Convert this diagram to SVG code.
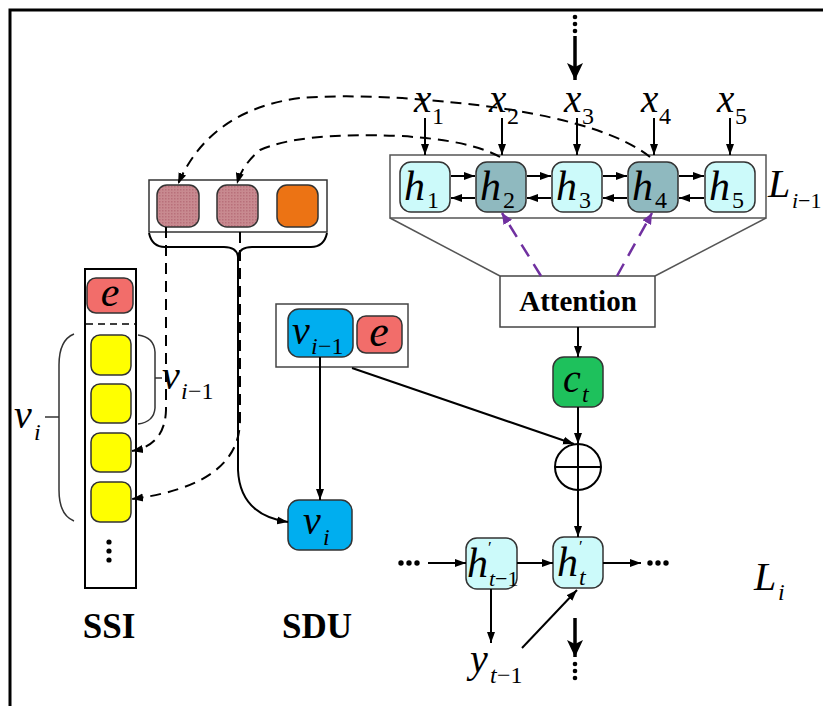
<svg xmlns="http://www.w3.org/2000/svg" width="823" height="706" viewBox="0 0 823 706">
<defs>
<marker id="ahs" markerUnits="userSpaceOnUse" markerWidth="12" markerHeight="10" refX="11" refY="5" orient="auto"><path d="M0,1 L11,5 L0,9 Z" fill="#000"/></marker>
<marker id="ahb" markerUnits="userSpaceOnUse" markerWidth="18" markerHeight="16" refX="17" refY="8" orient="auto"><path d="M0,0 L17,8 L0,16 L4,8 Z" fill="#000"/></marker>
<marker id="ahp" markerUnits="userSpaceOnUse" markerWidth="12" markerHeight="10" refX="11" refY="5" orient="auto"><path d="M0,0 L11,5 L0,10 Z" fill="#7030a0"/></marker>
<pattern id="hatch" width="3" height="3" patternUnits="userSpaceOnUse"><rect width="3" height="3" fill="#c88a90"/><rect width="1.5" height="1.5" fill="#b8707a"/></pattern>
</defs>
<style>
.m{font-family:"Liberation Serif","DejaVu Serif",serif;font-style:italic;fill:#000}
.s{font-family:"Liberation Serif","DejaVu Serif",serif;font-style:normal;fill:#000}
.b{font-family:"Liberation Serif","DejaVu Serif",serif;font-weight:bold;fill:#000}
.ln{stroke:#000;stroke-width:2;fill:none}
.thin{stroke:#333;stroke-width:1.5;fill:none}
.dash{stroke:#000;stroke-width:2;fill:none;stroke-dasharray:11,7}
.hl{fill:#ccfafa;stroke:#333;stroke-width:1.5}
.hd{fill:#8fb9bf;stroke:#333;stroke-width:1.5}
.yel{fill:#ffff00;stroke:#333;stroke-width:1.5}
.red{fill:#f26d6a;stroke:#333;stroke-width:1.5}
.blue{fill:#00aeef;stroke:#333;stroke-width:1.5}
</style>
<rect width="823" height="706" fill="#fff"/>
<path d="M10,706 V10 H823" stroke="#000" stroke-width="3" fill="none"/>

<g id="top-input">
<circle cx="575" cy="17" r="2.3"/><circle cx="575" cy="24" r="2.3"/><circle cx="575" cy="31" r="2.3"/>
<line x1="575" y1="36" x2="575" y2="80" stroke="#000" stroke-width="3.5" marker-end="url(#ahb)"/>
</g>

<g id="x-labels">
<text class="m" x="414" y="112" font-size="39">x</text><text class="s" x="432" y="124" font-size="24">1</text>
<text class="m" x="489" y="112" font-size="39">x</text><text class="s" x="507" y="124" font-size="24">2</text>
<text class="m" x="564" y="112" font-size="39">x</text><text class="s" x="582" y="124" font-size="24">3</text>
<text class="m" x="641" y="112" font-size="39">x</text><text class="s" x="659" y="124" font-size="24">4</text>
<text class="m" x="717" y="112" font-size="39">x</text><text class="s" x="735" y="124" font-size="24">5</text>
</g>

<g id="encoder-box">
<rect x="390" y="155" width="376" height="63" fill="#fff" stroke="#555" stroke-width="1.5"/>
</g>
<g id="h1"><rect class="hl" x="400" y="162" width="50" height="50" rx="11"/><text class="m" x="404" y="200" font-size="42">h</text><text class="s" x="427" y="208" font-size="24">1</text></g>
<g id="h2"><rect class="hd" x="476" y="162" width="50" height="50" rx="11"/><text class="m" x="480" y="200" font-size="42">h</text><text class="s" x="503" y="208" font-size="24">2</text></g>
<g id="h3"><rect class="hl" x="552" y="162" width="50" height="50" rx="11"/><text class="m" x="556" y="200" font-size="42">h</text><text class="s" x="579" y="208" font-size="24">3</text></g>
<g id="h4"><rect class="hd" x="628" y="162" width="50" height="50" rx="11"/><text class="m" x="632" y="200" font-size="42">h</text><text class="s" x="655" y="208" font-size="24">4</text></g>
<g id="h5"><rect class="hl" x="705" y="162" width="50" height="50" rx="11"/><text class="m" x="709" y="200" font-size="42">h</text><text class="s" x="732" y="208" font-size="24">5</text></g>
<g id="L-prev"><text class="m" x="768" y="197" font-size="40">L</text><text class="m" x="792" y="208" font-size="22">i</text><text class="s" x="798" y="208" font-size="22">−1</text></g>

<g id="attention">
<rect x="500" y="276" width="155" height="51" fill="#fff" stroke="#444" stroke-width="1.5"/>
<text class="b" x="578" y="311" font-size="29" text-anchor="middle">Attention</text>
</g>
<g id="ct"><rect x="553" y="357" width="50" height="50" rx="11" fill="#1ec15c" stroke="#333" stroke-width="1.5"/><text class="m" x="563" y="392" font-size="40">c</text><text class="m" x="582" y="402" font-size="24">t</text></g>
<g id="sum"><circle cx="578" cy="467" r="23" fill="#fff" stroke="#000" stroke-width="2"/><line x1="555" y1="467" x2="601" y2="467" stroke="#000" stroke-width="2"/><line x1="578" y1="444" x2="578" y2="490" stroke="#000" stroke-width="2"/></g>

<g id="h-prev"><rect class="hl" x="466" y="538" width="51" height="51" rx="11"/><text class="m" x="467" y="577" font-size="42">h</text><text class="s" x="488" y="553" font-size="17">′</text><text class="m" x="489" y="586" font-size="22">t</text><text class="s" x="495" y="586" font-size="22">−1</text></g>
<g id="h-cur"><rect class="hl" x="553" y="537" width="50" height="51" rx="11"/><text class="m" x="557" y="576" font-size="42">h</text><text class="s" x="579" y="552" font-size="17">′</text><text class="m" x="579" y="585" font-size="24">t</text></g>
<g id="dots-left"><circle cx="401" cy="563" r="2.7"/><circle cx="409" cy="563" r="2.7"/><circle cx="417" cy="563" r="2.7"/></g>
<g id="dots-right"><circle cx="650" cy="563" r="2.7"/><circle cx="658" cy="563" r="2.7"/><circle cx="666" cy="563" r="2.7"/></g>
<g id="y-prev"><text class="m" x="470" y="672" font-size="40">y</text><text class="m" x="490" y="683" font-size="24">t</text><text class="s" x="497" y="683" font-size="24">−1</text></g>
<g id="L-cur"><text class="m" x="754" y="590" font-size="40">L</text><text class="m" x="778" y="600" font-size="24">i</text></g>
<g id="bottom-output">
<line x1="575" y1="618" x2="575" y2="657" stroke="#000" stroke-width="3.5" marker-end="url(#ahb)"/>
<circle cx="575" cy="664" r="2.3"/><circle cx="575" cy="671" r="2.3"/><circle cx="575" cy="678" r="2.3"/>
</g>

<g id="memory">
<rect x="149" y="180" width="178" height="52" fill="#fff" stroke="#333" stroke-width="1.5"/>
<rect x="157" y="185" width="42" height="42" rx="10" fill="url(#hatch)" stroke="#333" stroke-width="1.5"/>
<rect x="217" y="185" width="41" height="42" rx="10" fill="url(#hatch)" stroke="#333" stroke-width="1.5"/>
<rect x="277" y="185" width="41" height="42" rx="10" fill="#ec7314" stroke="#333" stroke-width="1.5"/>
<path class="ln" d="M149,233 Q152,247 165,247 H224 Q237,247 238,257 Q239,247 252,247 H311 Q324,247 327,233" stroke-width="1.8"/>
</g>

<g id="SSI">
<rect x="85" y="269" width="51" height="319" fill="#fff" stroke="#000" stroke-width="2"/>
<rect class="red" x="87" y="278" width="46" height="35" rx="9"/>
<text class="m" x="110" y="306" font-size="42" text-anchor="middle">e</text>
<line x1="86" y1="324" x2="135" y2="324" stroke="#000" stroke-width="1.5" stroke-dasharray="7,5"/>
<rect class="yel" x="91" y="335" width="40" height="40" rx="9"/>
<rect class="yel" x="91" y="384" width="40" height="39" rx="9"/>
<rect class="yel" x="91" y="433" width="40" height="39" rx="9"/>
<rect class="yel" x="91" y="482" width="40" height="40" rx="9"/>
<circle cx="109" cy="542" r="2.6"/><circle cx="109" cy="551" r="2.6"/><circle cx="109" cy="560" r="2.6"/>
<text class="b" x="109" y="638" font-size="35" text-anchor="middle">SSI</text>
</g>
<g id="brace-vprev">
<path class="thin" d="M138,335 Q154,337 155,352 V408 Q154,422 138,424"/>
<line x1="155" y1="378" x2="162" y2="378" stroke="#333" stroke-width="1.5"/>
<text class="m" x="162" y="389" font-size="40">v</text><text class="m" x="181" y="399" font-size="24">i</text><text class="s" x="188" y="399" font-size="24">−1</text>
</g>
<g id="brace-vi">
<path class="thin" d="M74,334 Q59,340 59,365 V490 Q59,515 74,521"/>
<line x1="45" y1="417" x2="59" y2="417" stroke="#333" stroke-width="1.5"/>
<text class="m" x="14" y="428" font-size="40">v</text><text class="m" x="34" y="440" font-size="24">i</text>
</g>

<g id="SDU">
<rect x="276" y="304" width="132" height="63" fill="#fff" stroke="#444" stroke-width="1.5"/>
<rect class="blue" x="288" y="309" width="65" height="48" rx="11"/>
<text class="m" x="292" y="344" font-size="40">v</text><text class="m" x="311" y="354" font-size="24">i</text><text class="s" x="318" y="354" font-size="24">−1</text>
<rect class="red" x="357" y="316" width="45" height="37" rx="9"/>
<text class="m" x="379" y="346" font-size="44" text-anchor="middle">e</text>
<text class="b" x="317" y="638" font-size="35" text-anchor="middle">SDU</text>
</g>
<g id="vi"><rect class="blue" x="288" y="500" width="64" height="50" rx="11"/><text class="m" x="303" y="534" font-size="40">v</text><text class="m" x="323" y="545" font-size="24">i</text></g>

<g id="connectors">
<line x1="425" y1="118" x2="425" y2="155" class="ln" marker-end="url(#ahs)"/>
<line x1="502" y1="118" x2="502" y2="155" class="ln" marker-end="url(#ahs)"/>
<line x1="577" y1="118" x2="577" y2="155" class="ln" marker-end="url(#ahs)"/>
<line x1="654" y1="118" x2="654" y2="155" class="ln" marker-end="url(#ahs)"/>
<line x1="730" y1="118" x2="730" y2="155" class="ln" marker-end="url(#ahs)"/>
<line x1="451" y1="176" x2="475" y2="176" class="ln" marker-end="url(#ahs)"/>
<line x1="475" y1="198" x2="451" y2="198" class="ln" marker-end="url(#ahs)"/>
<line x1="527" y1="176" x2="551" y2="176" class="ln" marker-end="url(#ahs)"/>
<line x1="551" y1="198" x2="527" y2="198" class="ln" marker-end="url(#ahs)"/>
<line x1="603" y1="176" x2="627" y2="176" class="ln" marker-end="url(#ahs)"/>
<line x1="627" y1="198" x2="603" y2="198" class="ln" marker-end="url(#ahs)"/>
<line x1="679" y1="176" x2="704" y2="176" class="ln" marker-end="url(#ahs)"/>
<line x1="704" y1="198" x2="679" y2="198" class="ln" marker-end="url(#ahs)"/>
<line x1="390" y1="218" x2="500" y2="276" stroke="#555" stroke-width="1.5"/>
<line x1="766" y1="218" x2="655" y2="276" stroke="#555" stroke-width="1.5"/>
<line x1="541" y1="276" x2="502" y2="213" stroke="#7030a0" stroke-width="2.5" stroke-dasharray="14,9" marker-end="url(#ahp)"/>
<line x1="617" y1="276" x2="652" y2="213" stroke="#7030a0" stroke-width="2.5" stroke-dasharray="14,9" marker-end="url(#ahp)"/>
<line x1="578" y1="327" x2="578" y2="357" class="ln" marker-end="url(#ahs)"/>
<line x1="578" y1="407" x2="578" y2="444" class="ln" marker-end="url(#ahs)"/>
<line x1="352" y1="368" x2="574" y2="444" class="ln" marker-end="url(#ahs)"/>
<line x1="578" y1="490" x2="578" y2="537" class="ln" marker-end="url(#ahs)"/>
<line x1="428" y1="563" x2="466" y2="563" class="ln" marker-end="url(#ahs)"/>
<line x1="517" y1="563" x2="553" y2="563" class="ln" marker-end="url(#ahs)"/>
<line x1="603" y1="563" x2="641" y2="563" class="ln" marker-end="url(#ahs)"/>
<line x1="491" y1="589" x2="491" y2="643" class="ln" marker-end="url(#ahs)"/>
<line x1="522" y1="648" x2="577" y2="590" class="ln" marker-end="url(#ahs)"/>
<line x1="320" y1="357" x2="320" y2="500" class="ln" marker-end="url(#ahs)"/>
<path class="ln" d="M238,257 V470 Q240,515 288,522" marker-end="url(#ahs)"/>
<path class="dash" d="M650,157 Q610,125 500,108 Q380,92 300,98 Q210,110 178,184" marker-end="url(#ahs)"/>
<path class="dash" d="M500,157 Q470,140 400,136 Q300,132 260,150 Q242,165 237,184" marker-end="url(#ahs)"/>
<path class="dash" d="M166,227 V410 Q165,445 132,451" marker-end="url(#ahs)"/>
<path class="dash" d="M240,232 V420 Q240,485 132,499" marker-end="url(#ahs)"/>
</g>
</svg>
